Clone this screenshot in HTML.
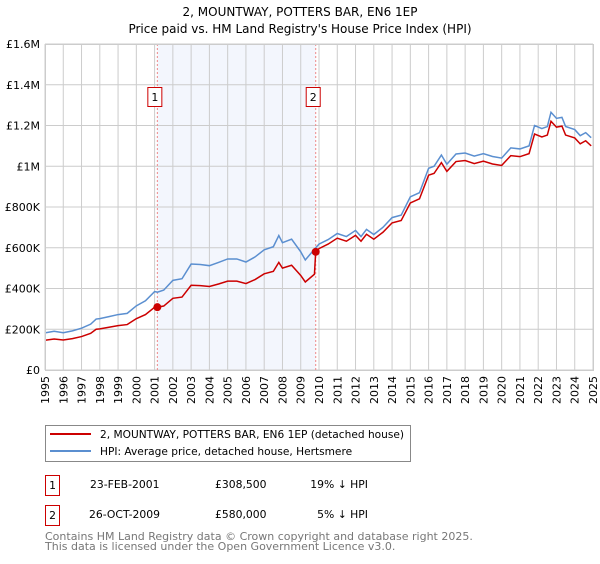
<!DOCTYPE html>
<html><head><meta charset="utf-8"><style>
body{margin:0;background:#fff;width:600px;height:560px;overflow:hidden;font-family:"DejaVu Sans","Liberation Sans",sans-serif;}
svg text{font-family:"DejaVu Sans","Liberation Sans",sans-serif;}
</style></head><body>
<svg id="chart" width="600" height="560" xmlns="http://www.w3.org/2000/svg">
<text x="300" y="16" text-anchor="middle" font-size="12" fill="#000">2, MOUNTWAY, POTTERS BAR, EN6 1EP</text>
<text x="300" y="33" text-anchor="middle" font-size="12" fill="#000">Price paid vs. HM Land Registry's House Price Index (HPI)</text>
<g id="plot"></g>
<g>
<rect x="45.5" y="425.5" width="365" height="36" fill="#fff" stroke="#888"/>
<line x1="50" y1="434" x2="91" y2="434" stroke="#cc0000" stroke-width="2"/>
<text x="100" y="438" font-size="10.6">2, MOUNTWAY, POTTERS BAR, EN6 1EP (detached house)</text>
<line x1="50" y1="451" x2="91" y2="451" stroke="#5b8fd0" stroke-width="2"/>
<text x="100" y="455" font-size="10.6">HPI: Average price, detached house, Hertsmere</text>
</g>
<g font-size="10.8">
<rect x="45.5" y="475.5" width="14" height="20" fill="#fff" stroke="#cc0000"/>
<text x="52.5" y="489" text-anchor="middle">1</text>
<text x="90" y="488">23-FEB-2001</text>
<text x="215" y="488">£308,500</text>
<text x="368" y="488" text-anchor="end">19% ↓ HPI</text>
<rect x="45.5" y="505.5" width="14" height="20" fill="#fff" stroke="#cc0000"/>
<text x="52.5" y="519" text-anchor="middle">2</text>
<text x="89" y="518">26-OCT-2009</text>
<text x="215" y="518">£580,000</text>
<text x="368" y="518" text-anchor="end">5% ↓ HPI</text>
</g>
<text x="45" y="540" font-size="11" fill="#777">Contains HM Land Registry data © Crown copyright and database right 2025.</text>
<text x="45" y="550" font-size="11" fill="#777">This data is licensed under the Open Government Licence v3.0.</text>
</svg>
<script>
const yTicks=[0,200,400,600,800,1000,1200,1400,1600];
const yTickLabels=["£0","£200K","£400K","£600K","£800K","£1M","£1.2M","£1.4M","£1.6M"];
const xTicks=[1995,1996,1997,1998,1999,2000,2001,2002,2003,2004,2005,2006,2007,2008,2009,2010,2011,2012,2013,2014,2015,2016,2017,2018,2019,2020,2021,2022,2023,2024,2025];
const hpiDates=[1995,1995.5,1996,1996.5,1997,1997.5,1997.8,1998,1998.5,1999,1999.5,2000,2000.5,2001,2001.15,2001.5,2002,2002.5,2003,2003.5,2004,2004.5,2005,2005.5,2006,2006.5,2007,2007.5,2007.8,2008,2008.5,2009,2009.25,2009.82,2010,2010.5,2011,2011.5,2012,2012.3,2012.6,2013,2013.5,2014,2014.5,2015,2015.5,2016,2016.3,2016.7,2017,2017.5,2018,2018.5,2019,2019.5,2020,2020.5,2021,2021.5,2021.8,2022.2,2022.5,2022.7,2023,2023.3,2023.5,2024,2024.3,2024.6,2024.9];
const hpiValues=[182,190,183,192,205,225,250,252,262,272,278,315,340,385,382,392,440,448,520,518,512,528,545,545,530,555,590,605,660,625,642,580,540,600,618,640,670,655,685,655,690,665,700,748,760,850,870,990,1000,1055,1010,1060,1065,1050,1062,1048,1040,1090,1085,1100,1200,1185,1195,1265,1235,1240,1195,1180,1150,1165,1140];
const propDates=[1995,1995.5,1996,1996.5,1997,1997.5,1997.8,1998,1998.5,1999,1999.5,2000,2000.5,2001,2001.15,2001.5,2002,2002.5,2003,2003.5,2004,2004.5,2005,2005.5,2006,2006.5,2007,2007.5,2007.8,2008,2008.5,2009,2009.25,2009.75,2009.82,2010,2010.5,2011,2011.5,2012,2012.3,2012.6,2013,2013.5,2014,2014.5,2015,2015.5,2016,2016.3,2016.7,2017,2017.5,2018,2018.5,2019,2019.5,2020,2020.5,2021,2021.5,2021.8,2022.2,2022.5,2022.7,2023,2023.3,2023.5,2024,2024.3,2024.6,2024.9];
const propValues=[146,152,147,154,164,180,200,202,210,218,223,252,272,308,308.5,314,352,358,416,414,410,422,436,436,424,444,472,484,528,500,514,464,432,470,580,596,618,647,632,661,632,666,642,676,722,734,820,840,956,965,1018,975,1023,1028,1013,1025,1011,1004,1052,1047,1062,1158,1144,1153,1221,1192,1197,1153,1139,1110,1125,1100];
const sales=[{d:2001.15,v:308.5,n:"1"},{d:2009.82,v:580,n:"2"}];

const X0=45,X1=593,Y0=370,Y1=44;
const xs=d=>X0+(d-1995)/30*(X1-X0);
const ys=v=>Y0-v/1600*(Y0-Y1);
const NS="http://www.w3.org/2000/svg";
const g=document.getElementById('plot');
function mk(t,a){const e=document.createElementNS(NS,t);for(const k in a)e.setAttribute(k,a[k]);g.appendChild(e);return e;}
let e=mk('rect',{x:X0,y:Y1,width:X1-X0,height:Y0-Y1,fill:'#fff'});


e=mk('rect',{x:xs(sales[0].d),y:Y1,width:xs(sales[1].d)-xs(sales[0].d),height:Y0-Y1,fill:'#f3f6fd'});


xTicks.forEach(t=>{
 let l=mk('line',{x1:xs(t),x2:xs(t),y1:Y1,y2:Y0,stroke:'#ccc','stroke-width':1});
 
 
 let tx=mk('text',{x:0,y:0,'font-size':11,'text-anchor':'end',transform:`translate(${xs(t)+4},${Y0+6}) rotate(-90)`});
 tx.textContent=t;
 
 
});
yTicks.forEach((t,i)=>{
 let l=mk('line',{x1:X0,x2:X1,y1:ys(t),y2:ys(t),stroke:'#ccc','stroke-width':1});
 
 
 let tx=mk('text',{x:X0-5,y:ys(t)+4,'font-size':11,'text-anchor':'end'});
 tx.textContent=yTickLabels[i];
 
 
});
sales.forEach(s=>{
 let l=mk('line',{x1:xs(s.d),x2:xs(s.d),y1:Y1,y2:Y0,stroke:'#e88','stroke-width':1,'stroke-dasharray':'2,2'});
 
 
 let r=mk('rect',{x:xs(s.d)-9.5,y:87.5,width:14,height:19,fill:'#fff',stroke:'#cc0000'});
 
 
 let t=mk('text',{x:xs(s.d)-2.5,y:101,'font-size':11,'text-anchor':'middle'});
 t.textContent=s.n;
 
 
});
let p=mk('polyline',{points:hpiDates.map((d,i)=>xs(d)+','+ys(hpiValues[i])).join(' '),fill:'none',stroke:'#5b8fd0','stroke-width':1.5});


p=mk('polyline',{points:propDates.map((d,i)=>xs(d)+','+ys(propValues[i])).join(' '),fill:'none',stroke:'#cc0000','stroke-width':1.5});


sales.forEach(s=>{
 let c=mk('circle',{cx:xs(s.d),cy:ys(s.v),r:4,fill:'#cc0000'});
 
 
});
e=mk('rect',{x:X0+0.5,y:Y1+0.5,width:X1-X0,height:Y0-Y1,fill:'none',stroke:'#ccc'});


</script>
</body></html>
